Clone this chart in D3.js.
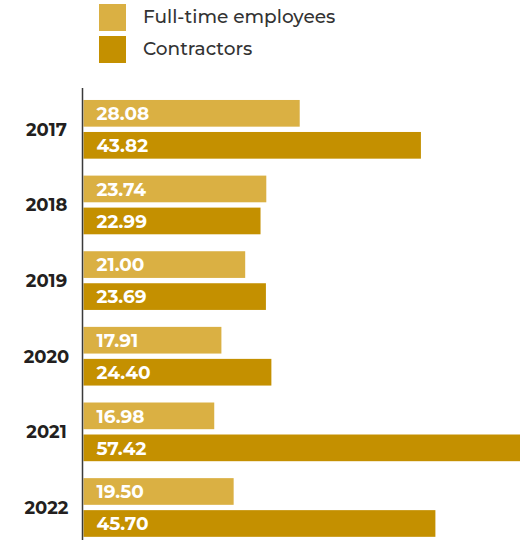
<!DOCTYPE html>
<html><head><meta charset="utf-8">
<script src="https://cdn.jsdelivr.net/npm/d3@7"></script>
<style>body{margin:0;background:#fff;}svg{display:block;}</style>
</head><body>
<script>
const years = ["2017","2018","2019","2020","2021","2022"];
const seriesNames = ["Full-time employees","Contractors"];
const fullTime = [28.08, 23.74, 21.00, 17.91, 16.98, 19.50];
const contractors = [43.82, 22.99, 23.69, 24.40, 57.42, 45.70];
const colors = ["#DAB043","#C49000"];

const W = 520, H = 540;
const svg = d3.select("body").append("svg").attr("width", W).attr("height", H);

const x = d3.scaleLinear().domain([0, 60]).range([83.5, 83.5 + 60 * 7.7]);
const y = d3.scaleBand().domain(years).range([91.5, 545.3]).paddingInner(0.224).paddingOuter(0.112);
const yi = d3.scaleBand().domain(seriesNames).range([0, y.bandwidth()]).paddingInner(0.166);

const data = years.map((yr, i) => ({year: yr, values: [
  {s: seriesNames[0], v: fullTime[i], c: colors[0]},
  {s: seriesNames[1], v: contractors[i], c: colors[1]}
]}));

const g = svg.selectAll("g.grp").data(data).join("g").attr("class","grp")
  .attr("transform", d => `translate(0,${y(d.year)})`);

g.selectAll("rect").data(d => d.values).join("rect")
  .attr("x", x(0)).attr("y", d => yi(d.s))
  .attr("width", d => x(d.v) - x(0)).attr("height", yi.bandwidth())
  .attr("fill", d => d.c);

g.selectAll("text.val").data(d => d.values).join("text").attr("class","val")
  .attr("x", x(0) + 13).attr("y", d => yi(d.s) + yi.bandwidth()/2)
  .attr("dy", "0.36em")
  .attr("fill", "#fff").attr("font-family", "Montserrat, 'Open Sans', sans-serif")
  .attr("font-weight", 700).attr("font-size", "18.5px")
  .text(d => d.v.toFixed(2));

// year labels
svg.selectAll("text.yr").data(years).join("text").attr("class","yr")
  .attr("x", 46.5).attr("y", d => y(d) + y.bandwidth()/2)
  .attr("dy","0.36em").attr("text-anchor","middle")
  .attr("fill","#231F20").attr("font-family","Montserrat, 'Open Sans', sans-serif")
  .attr("font-weight",700).attr("font-size","18px")
  .text(d => d);

// axis line
svg.append("line").attr("x1", 82.5).attr("x2", 82.5).attr("y1", 88).attr("y2", H)
  .attr("stroke", "#3a3a3a").attr("stroke-width", 1.5);

// legend
const lg = svg.selectAll("g.lg").data(seriesNames).join("g").attr("class","lg")
  .attr("transform", (d,i) => `translate(99,${4 + i*32})`);
lg.append("rect").attr("width", 27).attr("height", 27).attr("fill", (d,i) => colors[i]);
lg.append("text").attr("x", 44).attr("y", 12.5).attr("dy","0.36em")
  .attr("fill","#333").attr("font-family","Montserrat, 'Open Sans', sans-serif")
  .attr("font-size","18.5px").attr("font-weight",500)
  .text(d => d);
</script>
</body></html>
